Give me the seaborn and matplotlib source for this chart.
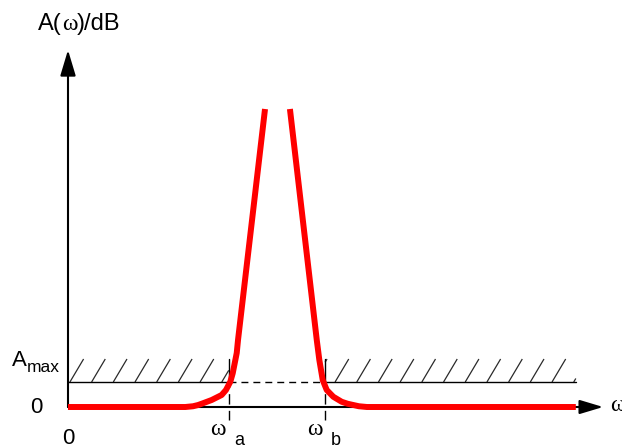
import numpy as np
import pandas as pd
import matplotlib
matplotlib.use("Agg")
import matplotlib.pyplot as plt
import seaborn as sns
from matplotlib.collections import LineCollection

# Band-stop tolerance scheme: characteristic frequencies and limits
OMEGA_A = 10.0      # upper passband edge
OMEGA_B = 16.0      # lower edge of the second passband
A_MAX = 1.0         # maximum passband attenuation
BAND_TOP = 1.92     # upper edge of the hatched forbidden band
OMEGA_END = 31.6    # end of the plotted frequency range
OMEGA_TIP = 33.3    # tip of the ω-axis arrow
A_TIP = 14.28       # tip of the A-axis arrow

# Attenuation curve, left branch (rising towards the stopband)
left_omega = [0.0, 7.3, 7.78, 8.10, 8.40, 8.94, 9.56, 9.83, 10.10, 10.25,
              10.50, 10.58, 12.26]
left_A = [0.0, 0.0, 0.03, 0.08, 0.15, 0.28, 0.48, 0.68, 1.01, 1.35,
          2.16, 2.68, 11.92]
# right branch (falling back into the passband)
right_omega = [13.81, 15.48, 15.64, 15.85, 16.10, 16.51, 17.03, 17.40,
               17.75, 18.10, 18.60, 31.6]
right_A = [11.92, 2.68, 1.88, 1.08, 0.68, 0.41, 0.21, 0.13,
           0.08, 0.03, 0.0, 0.0]

curve = pd.DataFrame({
    "omega": left_omega + right_omega,
    "A": left_A + right_A,
    "branch": ["left"] * len(left_omega) + ["right"] * len(right_omega),
})

sns.set_style("white")
plt.rcParams["font.family"] = ["Liberation Sans", "DejaVu Sans"]
plt.rcParams["text.color"] = "black"
OMEGA_FONT = ["Liberation Serif", "DejaVu Serif"]

PX_X, PX_Y = 16.07, 25.0   # pixels per unit on each axis
fig = plt.figure(figsize=(6.22, 4.48), dpi=100)
ax = fig.add_axes([0, 0, 1, 1])


def hatch_segments(x0, x1, phase, spacing=1.35, run=0.85):
    """Diagonal hatch strokes between A_MAX and BAND_TOP, cut at x0 and x1."""
    rise = (BAND_TOP - A_MAX) / run
    segs = []
    for s in np.arange(x0 + phase - spacing, x1, spacing):
        xa, xb = max(s, x0), min(s + run, x1)
        if xb <= xa:
            continue
        segs.append([(xa, A_MAX + (xa - s) * rise),
                     (xb, A_MAX + (xb - s) * rise)])
    return segs


# Hatched forbidden regions above A_max in both passbands
for x0, x1, phase in [(0.0, OMEGA_A, 0.12), (OMEGA_B, OMEGA_END, 0.62)]:
    ax.add_collection(LineCollection(hatch_segments(x0, x1, phase),
                                     colors="#2a2a2a", linewidths=0.9))

# A_max limit line: solid in the passbands, dashed across the stopband
ax.plot([0, OMEGA_A], [A_MAX, A_MAX], color="black", lw=1.0)
ax.plot([OMEGA_B, OMEGA_END], [A_MAX, A_MAX], color="black", lw=1.0)
ax.plot([OMEGA_A, OMEGA_B], [A_MAX, A_MAX], color="black", lw=1.0,
        ls=(0, (5, 3.6)))

# Band edges at ω_a and ω_b
for w in (OMEGA_A, OMEGA_B):
    ax.plot([w, w], [A_MAX, BAND_TOP], color="black", lw=1.0)
    ax.plot([w, w], [A_MAX, -0.52], color="black", lw=1.0,
            ls=(3.6, (7.5, 4.5)))

# Coordinate axes with arrow heads
ax.annotate("", xy=(OMEGA_TIP, 0), xytext=(0, 0),
            arrowprops=dict(arrowstyle="-|>,head_length=1.0,head_width=0.3",
                            mutation_scale=14.4, lw=1.5, color="black",
                            shrinkA=0, shrinkB=0))
ax.annotate("", xy=(0, A_TIP), xytext=(0, 0),
            arrowprops=dict(arrowstyle="-|>,head_length=1.1,head_width=0.33",
                            mutation_scale=14.4, lw=1.5, color="black",
                            shrinkA=0, shrinkB=0))

# Attenuation curve
sns.lineplot(data=curve, x="omega", y="A", units="branch", estimator=None,
             sort=False, color="#ff0000", lw=4.3, ax=ax, legend=False,
             zorder=5)
for line in ax.lines[-2:]:
    line.set_solid_capstyle("butt")
    line.set_solid_joinstyle("round")

# Axis title, with the ω set in a serif face
renderer = fig.canvas.get_renderer()
x_cursor = -1.87
for txt, fam in [("A(", None), ("ω", OMEGA_FONT), (")/dB", None)]:
    kw = {"family": fam} if fam else {}
    piece = ax.text(x_cursor, 15.1, txt, fontsize=17, ha="left",
                    va="baseline", **kw)
    x_cursor += piece.get_window_extent(renderer=renderer).width / PX_X

ax.text(-3.5, 1.64, "A", fontsize=16, ha="left", va="baseline")
ax.text(-2.55, 1.40, "max", fontsize=12.5, ha="left", va="baseline")
ax.text(-1.99, -0.24, "0", fontsize=16, ha="center", va="baseline")
ax.text(0.0, -1.48, "0", fontsize=16, ha="center", va="baseline")
for w, sub in ((OMEGA_A, "a"), (OMEGA_B, "b")):
    ax.text(w - 0.65, -1.12, "ω", fontsize=17, ha="center", va="baseline",
            family=OMEGA_FONT)
    ax.text(w + 0.35, -1.52, sub, fontsize=13, ha="left", va="baseline")
ax.text(33.73, -0.16, "ω", fontsize=17, ha="left", va="baseline",
        family=OMEGA_FONT)

ax.set_xlim(-68 / PX_X, 554 / PX_X)
ax.set_ylim(-41 / PX_Y, 407 / PX_Y)
ax.axis("off")

fig.savefig("out.png", dpi=100)
